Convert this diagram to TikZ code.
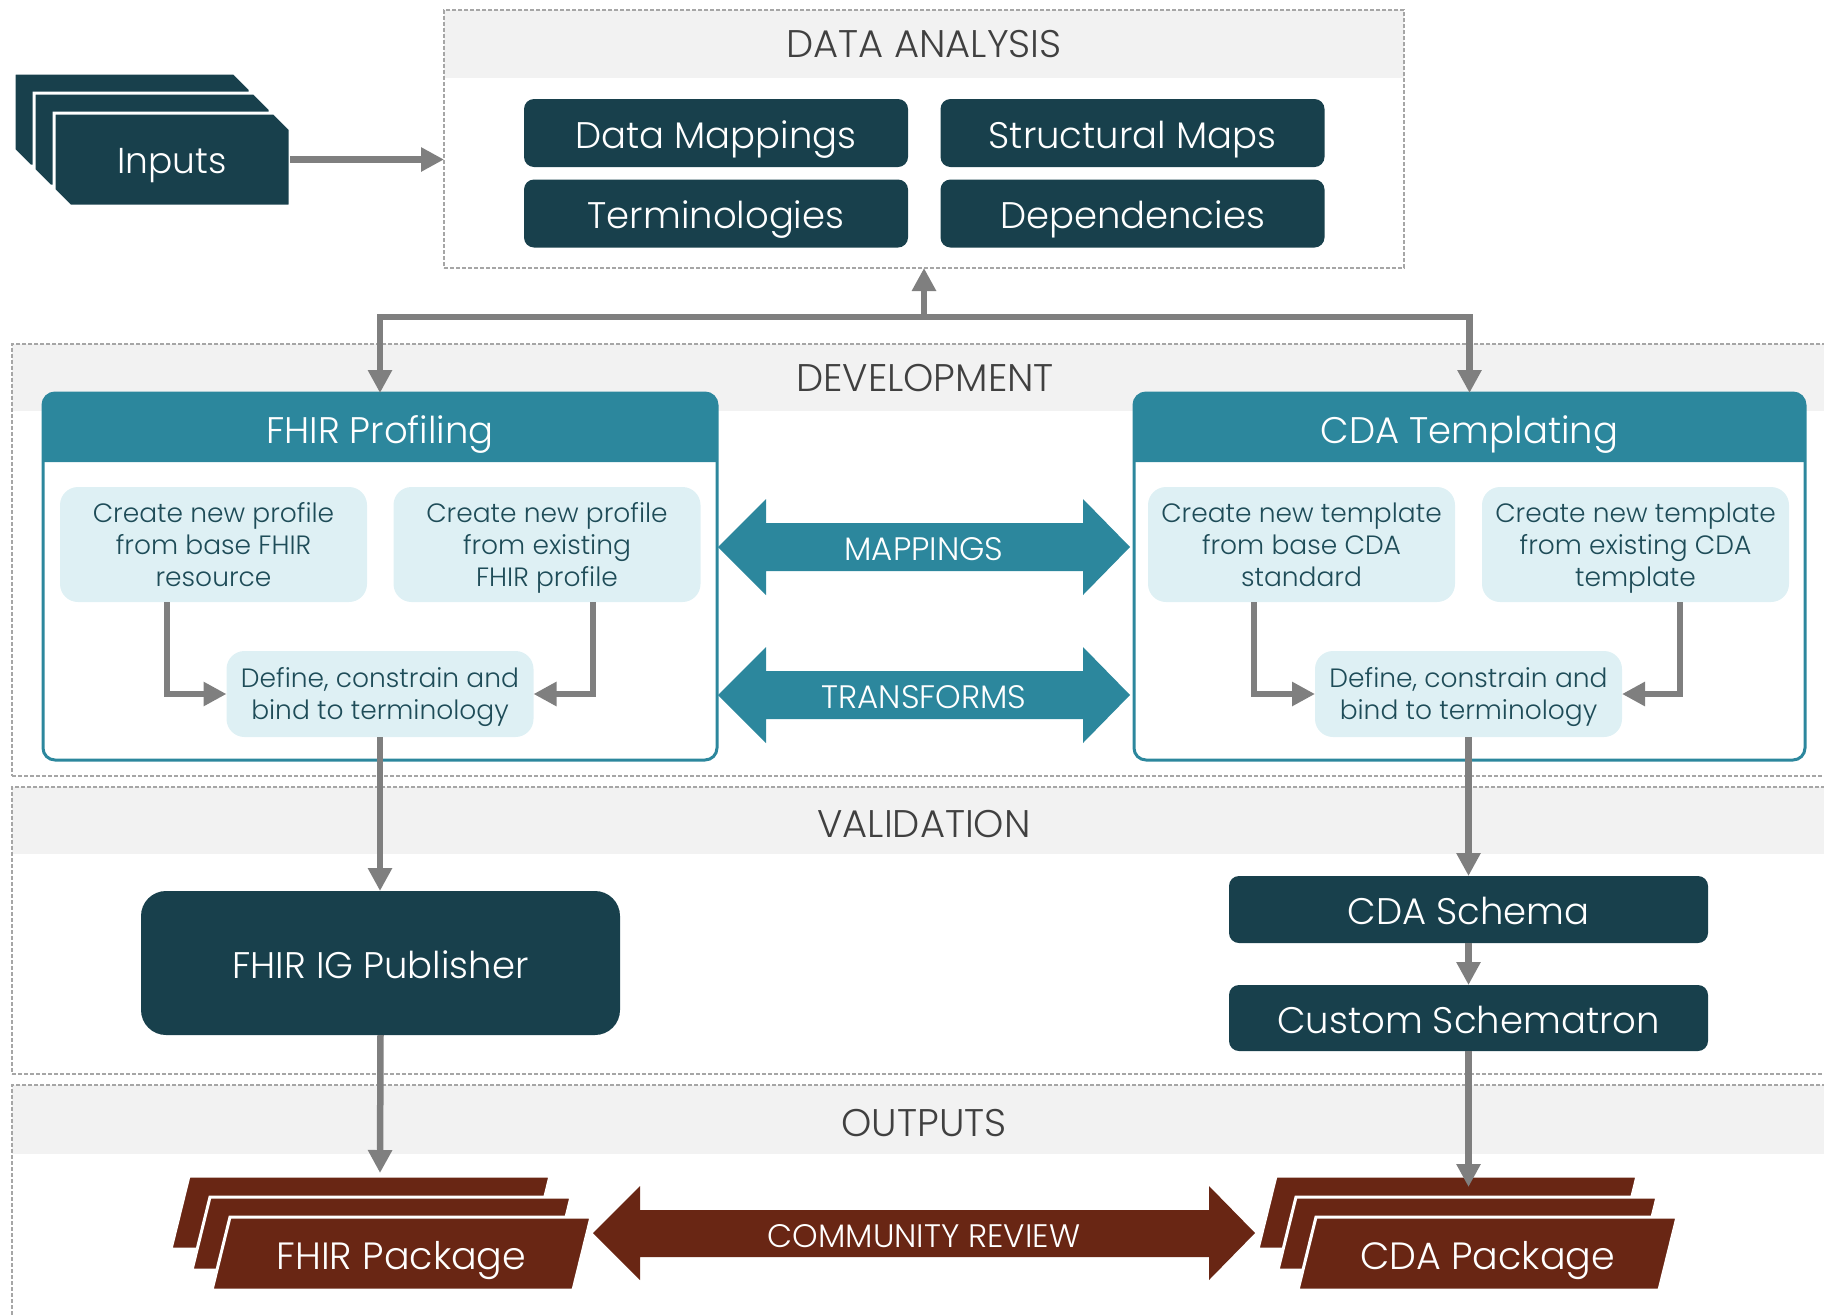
\documentclass[tikz,border=0pt]{standalone}
\usepackage{fontspec}
\IfFontExistsTF{Poppins Light}{\setmainfont{Poppins Light}}{\setmainfont{Poppins}}
\usetikzlibrary{arrows.meta}
\definecolor{dark}{HTML}{18404C}
\definecolor{tealh}{HTML}{2C879D}
\definecolor{lightb}{HTML}{DEF0F4}
\definecolor{arrgray}{HTML}{7F7F7F}
\definecolor{bandc}{HTML}{F2F2F2}
\definecolor{dashc}{HTML}{A6A6A6}
\definecolor{brownc}{HTML}{692614}
\definecolor{hdr}{HTML}{404040}
\definecolor{subtxt}{HTML}{1E4C58}
\newcommand\sst{\rule[-7pt]{0pt}{34pt}}
\newcommand\subfnt{\fontsize{26.5}{32}\selectfont\lineskiplimit=-100pt\relax\lineskip=0pt\relax}
\begin{document}
\begin{tikzpicture}[x=1pt,y=-1pt,
  panel/.style={draw=dashc, line width=1.3pt, dash pattern=on 4pt off 2pt, inner sep=0pt, outer sep=0pt, anchor=north west},
  hdrlabel/.style={font=\fontsize{38.5}{40}\selectfont, text=hdr, anchor=base, inner sep=0pt},
  darkbox/.style={fill=dark, rounded corners=10pt, text=white, font=\fontsize{37}{40}\selectfont, inner sep=0pt, outer sep=0pt, minimum width=384pt, minimum height=68pt, text height=30pt, text depth=0pt},
  subbox/.style={fill=lightb, rounded corners=18pt, text=subtxt, align=center, font=\subfnt, inner sep=0pt, outer sep=0pt, minimum width=307pt, minimum height=115pt},
  bigbox/.style={draw=tealh, line width=3pt, rounded corners=12pt, inner sep=0pt, outer sep=0pt, minimum width=674pt, minimum height=367pt, anchor=north west},
  titlelbl/.style={font=\fontsize{37}{40}\selectfont, text=white, anchor=base, inner sep=0pt},
  arrlbl/.style={font=\fontsize{32.5}{34}\selectfont, text=white, anchor=base, inner sep=0pt},
  pkglbl/.style={font=\fontsize{38}{40}\selectfont, text=white, inner sep=0pt, minimum width=361pt, minimum height=73pt, text height=32pt, text depth=0pt},
  arr/.style={draw=arrgray, line width=6.5pt, -{Triangle[width=23pt,length=23pt]}},
  pkg/.style={fill=brownc, draw=white, line width=3pt, line join=miter},
  inp/.style={fill=dark, draw=white, line width=3pt, line join=miter}
]
\useasboundingbox (0,0) rectangle (1824,1315);
\clip (0,0) rectangle (1824,1315);

% ---------- bands ----------
\fill[bandc] (444,10) rectangle (1404,78);
\fill[bandc] (12,344) rectangle (1840,411);
\fill[bandc] (12,787) rectangle (1840,854);
\fill[bandc] (12,1085) rectangle (1840,1154);

% ---------- panels ----------
\node[panel, minimum width=960pt, minimum height=258pt] (da) at (444,10) {};
\node[panel, minimum width=1828pt, minimum height=432pt] (dev) at (12,344) {};
\node[panel, minimum width=1828pt, minimum height=287pt] (val) at (12,787) {};
\node[panel, minimum width=1828pt, minimum height=270pt] (out) at (12,1085) {};

\node[hdrlabel] (dalbl) at (924,57) {DATA ANALYSIS};
\node[hdrlabel] (devlbl) at (925,391) {DEVELOPMENT};
\node[hdrlabel] (vallbl) at (924,837) {VALIDATION};
\node[hdrlabel] (outlbl) at (924,1136) {OUTPUTS};

% ---------- data analysis ----------
\node[darkbox] (dmap) at (716,133) {Data Mappings};
\node[darkbox] (smap) at (1132.5,133) {Structural Maps};
\node[darkbox] (term) at (716,213.5) {Terminologies};
\node[darkbox] (deps) at (1132.5,213.5) {Dependencies};

% ---------- inputs ----------
\fill[inp] (14,73) -- (234,73) -- (250,89) -- (250,166) -- (30,166) -- (14,150) -- cycle;
\fill[inp] (34,93) -- (254,93) -- (270,109) -- (270,186) -- (50,186) -- (34,170) -- cycle;
\fill[inp] (54,113) -- (274,113) -- (290,129) -- (290,206) -- (70,206) -- (54,190) -- cycle;
\node[font=\fontsize{36}{38}\selectfont, text=white, inner sep=0pt, outer sep=0pt, minimum width=236pt, minimum height=93pt, text height=27pt, text depth=0pt] (inputs) at (172,159.5) {Inputs};
\draw[arr] (inputs.east) -- (inputs.east -| da.west);

% ---------- development ----------
\node[bigbox] (fhir) at (43,393) {};
\fill[tealh] (43,462) {[rounded corners=12pt] -- (43,393) -- (717,393)} -- (717,462) -- cycle;
\node[titlelbl] (fhirt) at (380,443) {FHIR Profiling};

\node[bigbox, minimum width=671pt] (cda) at (1134,393) {};
\fill[tealh] (1134,462) {[rounded corners=12pt] -- (1134,393) -- (1805,393)} -- (1805,462) -- cycle;
\node[titlelbl] (cdat) at (1469.5,443) {CDA Templating};

\coordinate (hub) at (924,317);
\draw[arr] (hub) -- (da.south);
\draw[arr] (hub) -| (fhir.north);
\draw[arr] (hub) -| (cda.north);

\node[subbox] (fhirA) at (213.5,544.5) {\sst Create new profile\\\sst from base FHIR\\\sst resource};
\node[subbox] (fhirB) at (547,544.5) {\sst Create new profile\\\sst from existing\\\sst FHIR profile};
\node[subbox, minimum height=86pt] (fhirD) at (380,694) {\sst Define, constrain and\\\sst bind to terminology};

\node[subbox] (cdaA) at (1301.5,544.5) {\sst Create new template\\\sst from base CDA\\\sst standard};
\node[subbox] (cdaB) at (1635.5,544.5) {\sst Create new template\\\sst from existing CDA\\\sst template};
\node[subbox, minimum height=86pt] (cdaD) at (1468.5,694) {\sst Define, constrain and\\\sst bind to terminology};

\draw[arr] ([xshift=-46.5pt]fhirA.south) |- (fhirD.west);
\draw[arr] ([xshift=46pt]fhirB.south) |- (fhirD.east);
\draw[arr] ([xshift=-47.5pt]cdaA.south) |- (cdaD.west);
\draw[arr] ([xshift=44.5pt]cdaB.south) |- (cdaD.east);

% double arrows
\fill[tealh] (718,547) -- (766,499) -- (766,523) -- (1083,523) -- (1083,499) -- (1130,547) -- (1083,595) -- (1083,571) -- (766,571) -- (766,595) -- cycle;
\node[arrlbl] (mapl) at (924,560) {MAPPINGS};
\fill[tealh] (718,695) -- (766,647) -- (766,671) -- (1083,671) -- (1083,647) -- (1130,695) -- (1083,743) -- (1083,719) -- (766,719) -- (766,743) -- cycle;
\node[arrlbl] (trl) at (924,708) {TRANSFORMS};

% ---------- validation ----------
\node[darkbox, rounded corners=25pt, minimum width=479pt, minimum height=144pt] (igpub) at (380.5,963) {FHIR IG Publisher};
\node[darkbox, minimum width=479pt, minimum height=67pt] (schema) at (1468.5,909.5) {CDA Schema};
\node[darkbox, minimum width=479pt, minimum height=66pt] (schtron) at (1468.5,1018) {Custom Schematron};

\draw[arr] (fhirD.south) -- (fhirD.south |- igpub.north);
\draw[arr] (cdaD.south) -- (cdaD.south |- schema.north);
\draw[arr] (schema.south) -- (schtron.north);

% ---------- outputs ----------
\fill[pkg] (189,1176) -- (550,1176) -- (532,1249) -- (171,1249) -- cycle;
\fill[pkg] (210,1197) -- (571,1197) -- (553,1270) -- (192,1270) -- cycle;
\fill[pkg] (230,1217) -- (591,1217) -- (573,1290) -- (212,1290) -- cycle;
\node[pkglbl] (fhirpkg) at (401.5,1253.5) {FHIR Package};

\fill[pkg] (1276,1176) -- (1637,1176) -- (1619,1249) -- (1258,1249) -- cycle;
\fill[pkg] (1296,1197) -- (1657,1197) -- (1639,1270) -- (1278,1270) -- cycle;
\fill[pkg] (1316,1217) -- (1677,1217) -- (1659,1290) -- (1298,1290) -- cycle;
\node[pkglbl] (cdapkg) at (1487.5,1253.5) {CDA Package};

\coordinate (fhirpkgtop) at (380,1173);
\coordinate (cdapkgtop) at (1468.5,1187);
\draw[arr] (igpub.south) -- (fhirpkgtop);
\draw[arr] (schtron.south) -- (cdapkgtop);

\fill[brownc] (593,1233) -- (640,1186) -- (640,1210) -- (1209,1210) -- (1209,1186) -- (1255,1233) -- (1209,1280) -- (1209,1257) -- (640,1257) -- (640,1280) -- cycle;
\node[arrlbl] (crl) at (924,1247) {COMMUNITY REVIEW};
\end{tikzpicture}
\end{document}
